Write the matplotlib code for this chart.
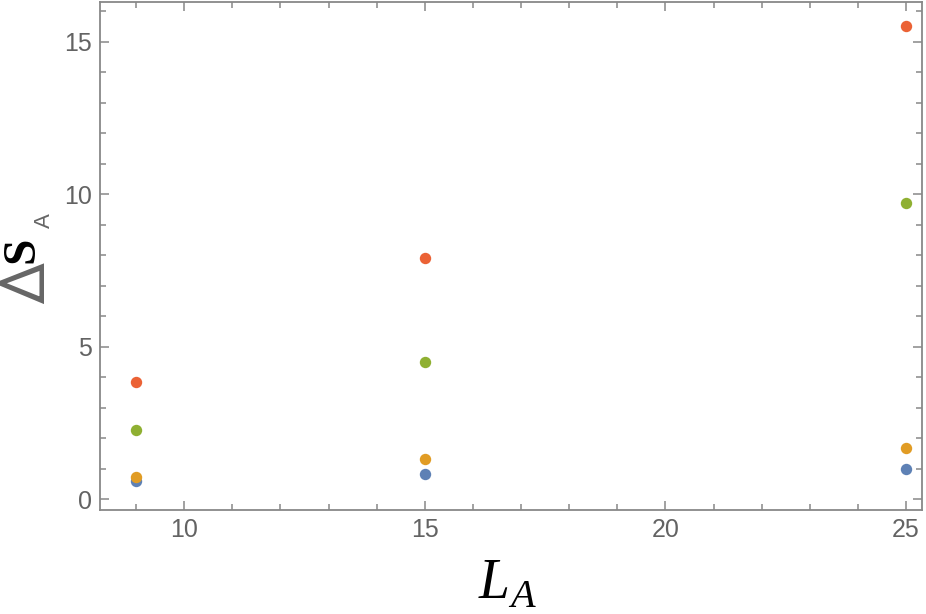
import matplotlib
matplotlib.use("Agg")
import matplotlib.pyplot as plt
from matplotlib.ticker import MultipleLocator

L_values = [9, 15, 25]
series_blue = [0.60, 0.83, 0.98]
series_orange = [0.72, 1.30, 1.68]
series_green = [2.28, 4.50, 9.72]
series_red = [3.85, 7.90, 15.50]
colors = ["#5E81B5", "#E19C24", "#8FB032", "#EB6235"]

W, H = 926, 614
fig = plt.figure(figsize=(W / 100, H / 100), dpi=100)
ax = fig.add_axes([100 / W, (H - 510) / H, (922 - 100) / W, (510 - 2) / H])

for ys, c in zip([series_blue, series_orange, series_green, series_red], colors):
    ax.plot(L_values, ys, 'o', color=c, markersize=8.2, markeredgewidth=0, zorder=3)

ax.set_xlim(8.25, 25.33)
ax.set_ylim(-0.36, 16.3)
ax.xaxis.set_major_locator(MultipleLocator(5))
ax.xaxis.set_minor_locator(MultipleLocator(1))
ax.yaxis.set_major_locator(MultipleLocator(5))
ax.yaxis.set_minor_locator(MultipleLocator(1))

frame_c = "#888888"
for s in ax.spines.values():
    s.set_color(frame_c)
    s.set_linewidth(1.3)
ax.tick_params(which='both', direction='in', top=True, right=True, color=frame_c, width=1.1)
ax.tick_params(which='major', length=6.5)
ax.tick_params(which='minor', length=4)
ax.tick_params(axis='both', which='major', labelsize=18, labelcolor='#636363')
ax.tick_params(axis='x', which='major', pad=5.5)
ax.tick_params(axis='y', which='major', pad=6)
for lab in ax.get_xticklabels() + ax.get_yticklabels():
    lab.set_fontfamily('Liberation Sans')

def px(x, y):
    return x / W, (H - y) / H

# x label L_A
fig.text(*px(479, 598), "L", fontsize=40, family='Liberation Serif', style='italic',
         color='black', ha='left', va='baseline')
fig.text(*px(510, 607), "A", fontsize=29, family='Liberation Serif', style='italic',
         color='black', ha='left', va='baseline')

# y label Delta S_A
fig.text(*px(44, 304), "\u0394", fontsize=44, family='Roboto', color='#666666',
         rotation=90, rotation_mode='anchor', ha='left', va='baseline')
fig.text(*px(33, 263), "S", fontsize=34, family='Liberation Serif', weight='bold',
         color='black', rotation=90, rotation_mode='anchor', ha='left', va='baseline')
fig.text(*px(50, 228), "A", fontsize=16, family='Liberation Sans', color='#666666',
         rotation=90, rotation_mode='anchor', ha='left', va='baseline')

fig.savefig("out.png", dpi=100)
